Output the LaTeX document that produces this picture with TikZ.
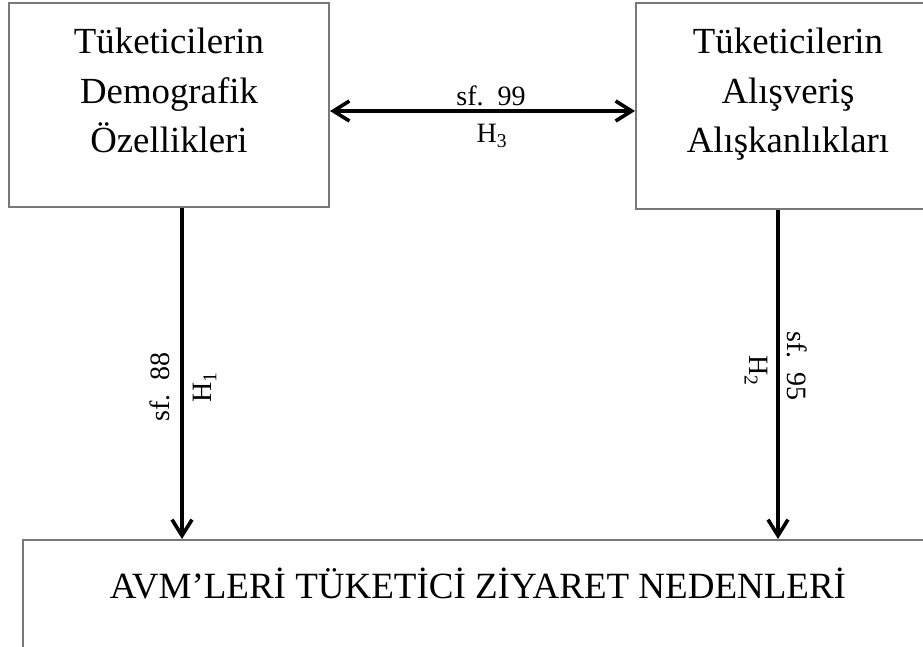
\documentclass[tikz,border=0pt]{standalone}
\usepackage{fontspec}
\setmainfont{Liberation Serif}
\usetikzlibrary{arrows.meta}
\definecolor{boxgray}{RGB}{120,120,120}
\begin{document}
\begin{tikzpicture}[x=1pt,y=-1pt,
  box/.style={draw=boxgray, line width=2pt, rectangle, inner sep=0pt},
  boxtext/.style={font=\fontsize{36.8}{49.5}\selectfont, align=center, inner sep=0pt, anchor=north},
  lab/.style={font=\fontsize{28}{32}\selectfont, inner sep=0pt},
  tipx/.tip={Straight Barb[length=16pt,width=20pt]},
  arr/.style={line width=3.6pt, -tipx},
  darr/.style={line width=3.6pt, tipx-tipx}]
\useasboundingbox (0,0) rectangle (923,647);
\clip (0,0) rectangle (923,647);
% boxes
\node[box, minimum width=320pt, minimum height=204pt] (L) at (169,105) {};
\node[boxtext] (Lt) at (169,28) {Tüketicilerin\\Demografik\\Özellikleri};
\node[box, minimum width=304pt, minimum height=206pt] (R) at (788,106) {};
\node[boxtext] (Rt) at (788,28) {Tüketicilerin\\Alışveriş\\Alışkanlıkları};
\node[box, minimum width=912pt, minimum height=160pt] (B) at (479,620) {};
\node[font=\fontsize{37}{44}\selectfont, anchor=base, inner sep=0pt] (Bt) at (478,598) {AVM’LERİ TÜKETİCİ ZİYARET NEDENLERİ};
% connectors
\draw[darr] ([yshift=-6pt]L.east) -- ([yshift=-5pt]R.west);
\draw[arr] ([xshift=13pt]L.south) -- ([xshift=13pt]L.south |- B.north);
\draw[arr] ([xshift=-10pt]R.south) -- ([xshift=-10pt]R.south |- B.north);
% labels
\node[lab, anchor=base] (l3a) at (491,106) {sf.\ \ 99};
\node[lab, anchor=base] (l3b) at (492,143) {H\textsubscript{3}};
\node[lab, rotate=90] (l1a) at (160,387) {sf.\ \ 88};
\node[lab, rotate=90] (l1b) at (205,387) {H\textsubscript{1}};
\node[lab, rotate=-90] (l2a) at (797,366) {sf.\ \ 95};
\node[lab, rotate=-90] (l2b) at (756,371) {H\textsubscript{2}};
\end{tikzpicture}
\end{document}
